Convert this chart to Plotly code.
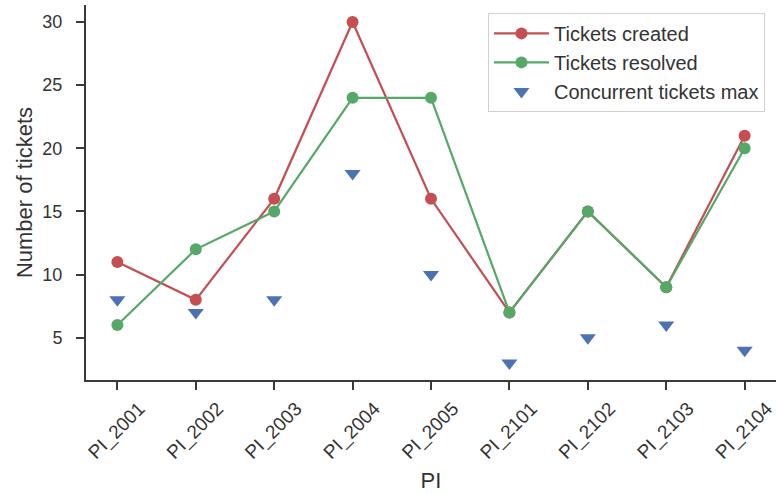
import plotly.graph_objects as go

categories = ["PI_2001", "PI_2002", "PI_2003", "PI_2004", "PI_2005",
              "PI_2101", "PI_2102", "PI_2103", "PI_2104"]
tickets_created = [11, 8, 16, 30, 16, 7, 15, 9, 21]
tickets_resolved = [6, 12, 15, 24, 24, 7, 15, 9, 20]
concurrent_max = [8, 7, 8, 18, 10, 3, 5, 6, 4]
y_ticks = [5, 10, 15, 20, 25, 30]

RED = "#C44E52"
GREEN = "#55A868"
BLUE = "#4C72B0"
TXT = "#333333"
AX = "#3a3a3a"
FONT = "Liberation Sans, Arial, sans-serif"

fig = go.Figure()
fig.add_trace(go.Scatter(x=categories, y=tickets_created, mode="lines+markers",
                         name="Tickets created", legendgroup="a",
                         line=dict(color=RED, width=2.2),
                         marker=dict(color=RED, size=12, symbol="circle")))
fig.add_trace(go.Scatter(x=categories, y=tickets_resolved, mode="lines+markers",
                         name="Tickets resolved", legendgroup="b",
                         line=dict(color=GREEN, width=2.2),
                         marker=dict(color=GREEN, size=12, symbol="circle")))
fig.add_trace(go.Scatter(x=categories, y=concurrent_max, mode="markers",
                         name="Concurrent tickets max", legendgroup="c",
                         marker=dict(color=BLUE, size=14, symbol="triangle-down")))

fig.update_layout(
    width=776, height=493,
    margin=dict(l=86, r=0, t=5, b=113),
    paper_bgcolor="white", plot_bgcolor="white",
    font=dict(family=FONT, size=18, color=TXT),
    showlegend=True,
    legend=dict(x=0.984, y=0.979, xanchor="right", yanchor="top",
                bgcolor="rgba(255,255,255,0.8)", bordercolor="#d0d0d0", borderwidth=1,
                font=dict(size=20, color=TXT), tracegroupgap=0,
                itemwidth=55),
    xaxis=dict(
        type="category", range=[-0.4, 8.4], automargin=False,
        showline=True, linecolor=AX, linewidth=2,
        ticks="outside", ticklen=8, tickwidth=1.5, tickcolor=AX,
        tickangle=-45, tickfont=dict(size=19, color=TXT),
        ticklabelshift=22,
        showgrid=False, zeroline=False,
        title=dict(text="PI", font=dict(size=22, color=TXT), standoff=12),
    ),
    yaxis=dict(
        range=[1.65, 31.35], tickvals=y_ticks, automargin=False,
        showline=True, linecolor=AX, linewidth=2,
        ticks="outside", ticklen=8, tickwidth=1.5, tickcolor=AX,
        tickfont=dict(size=18, color=TXT), ticklabelstandoff=10,
        showgrid=False, zeroline=False,
        title=dict(text="Number of tickets", font=dict(size=22, color=TXT), standoff=4),
    ),
)

fig.write_html("out.html", config={"displayModeBar": False},
               post_script="document.body.style.margin='0';")
